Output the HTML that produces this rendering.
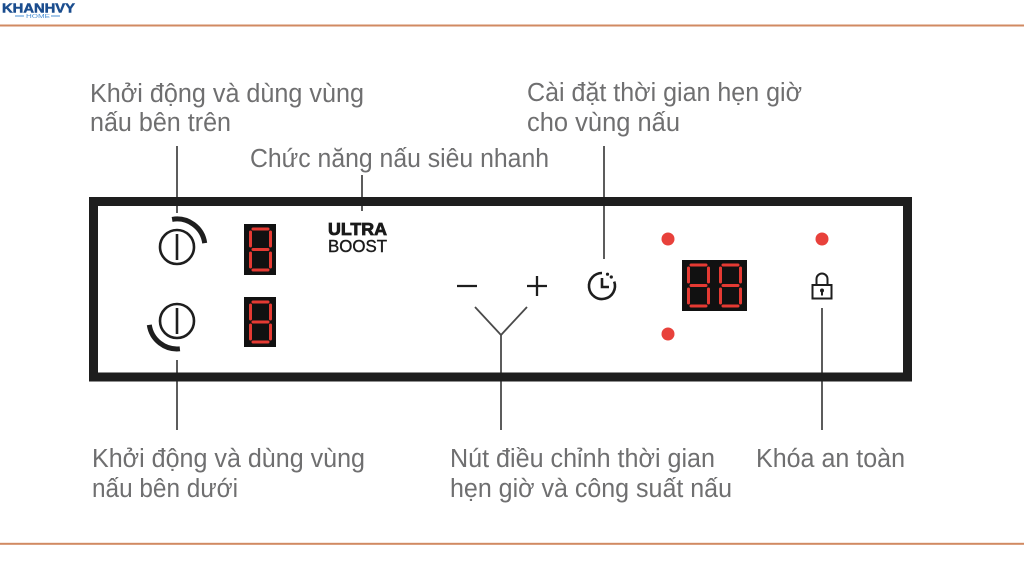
<!DOCTYPE html>
<html><head><meta charset="utf-8"><style>
html,body{margin:0;padding:0;background:#fff;}
svg{display:block;}
.lbl{font-family:"Liberation Sans",Arial,sans-serif;font-size:25.5px;fill:#6f6f70;}
</style></head><body>
<svg width="1024" height="576" viewBox="0 0 1024 576" xmlns="http://www.w3.org/2000/svg">
<rect width="1024" height="576" fill="#fff"/>
<!-- logo -->
<text x="2" y="12.5" font-family="Liberation Sans,Arial,sans-serif" font-weight="bold" font-size="13" fill="#1b4d8e" stroke="#1b4d8e" stroke-width="0.5" textLength="73" lengthAdjust="spacingAndGlyphs">KHANHVY</text>
<line x1="15" y1="16" x2="24" y2="16" stroke="#4a8fd3" stroke-width="1"/>
<line x1="51" y1="16" x2="60" y2="16" stroke="#4a8fd3" stroke-width="1"/>
<text x="26" y="18" font-family="Liberation Sans,Arial,sans-serif" font-size="5" fill="#4a8fd3" textLength="24" lengthAdjust="spacingAndGlyphs">HOME</text>
<!-- orange rules -->
<rect x="0" y="24.5" width="1024" height="2" fill="#d18a62"/>
<rect x="0" y="542.8" width="1024" height="2" fill="#d18a62"/>

<!-- labels -->
<text class="lbl" x="90" y="102" textLength="274" lengthAdjust="spacingAndGlyphs">Khởi động và dùng vùng</text>
<text class="lbl" x="90" y="131" textLength="141" lengthAdjust="spacingAndGlyphs">nấu bên trên</text>
<text class="lbl" x="250" y="167" textLength="299" lengthAdjust="spacingAndGlyphs">Chức năng nấu siêu nhanh</text>
<text class="lbl" x="527" y="101" textLength="275" lengthAdjust="spacingAndGlyphs">Cài đặt thời gian hẹn giờ</text>
<text class="lbl" x="527" y="131" textLength="153" lengthAdjust="spacingAndGlyphs">cho vùng nấu</text>
<text class="lbl" x="92" y="467" textLength="273" lengthAdjust="spacingAndGlyphs">Khởi động và dùng vùng</text>
<text class="lbl" x="92" y="497" textLength="146" lengthAdjust="spacingAndGlyphs">nấu bên dưới</text>
<text class="lbl" x="450" y="467" textLength="265" lengthAdjust="spacingAndGlyphs">Nút điều chỉnh thời gian</text>
<text class="lbl" x="450" y="497" textLength="282" lengthAdjust="spacingAndGlyphs">hẹn giờ và công suất nấu</text>
<text class="lbl" x="756" y="467" textLength="149" lengthAdjust="spacingAndGlyphs">Khóa an toàn</text>

<!-- connectors -->
<g stroke="#4a4a4a" stroke-width="1.8" fill="none">
<line x1="177" y1="146" x2="177" y2="213"/>
<line x1="362" y1="175" x2="362" y2="211"/>
<line x1="604" y1="146" x2="604" y2="259"/>
<line x1="177" y1="360" x2="177" y2="430"/>
<line x1="501" y1="335" x2="501" y2="430"/>
<line x1="475" y1="307" x2="501" y2="335"/>
<line x1="527" y1="307" x2="501" y2="335"/>
<line x1="822" y1="308" x2="822" y2="430"/>
</g>

<!-- frame -->
<rect x="93.5" y="201.5" width="814" height="175.5" fill="none" stroke="#1e1e1e" stroke-width="9"/>

<!-- power icons -->
<g stroke="#1e1e1e" fill="none">
<circle cx="177" cy="247" r="17" stroke-width="2.6"/>
<line x1="177" y1="234" x2="177" y2="260" stroke-width="2.6"/>
<path d="M172.1,219.4 A28,28 0 0 1 204.7,243.1" stroke-width="5"/>
<circle cx="177" cy="321" r="17" stroke-width="2.6"/>
<line x1="177" y1="308" x2="177" y2="334" stroke-width="2.6"/>
<path d="M179.9,348.8 A28,28 0 0 1 149.3,324.9" stroke-width="5"/>
</g>

<!-- single digit displays -->
<rect x="244" y="224" width="32" height="51" fill="#111"/>
<rect x="244" y="297" width="32" height="50" fill="#111"/>
<g stroke="#e53a33" stroke-width="3" stroke-linecap="round" fill="none">
<path d="M253,229 H268 M250.5,232 V246 M270.5,232 V246 M253,249.5 H268 M250.5,253 V267 M270.5,253 V267 M253,270 H268"/>
<path d="M253,302 H268 M250.5,305 V319 M270.5,305 V319 M253,322 H268 M250.5,325 V339 M270.5,325 V339 M253,342 H268"/>
</g>

<!-- ULTRA BOOST -->
<text x="328" y="235" font-family="Liberation Sans,Arial,sans-serif" font-weight="bold" font-size="17.5" fill="#1a1a1a" stroke="#1a1a1a" stroke-width="0.8" textLength="59" lengthAdjust="spacingAndGlyphs">ULTRA</text>
<text x="328" y="252" font-family="Liberation Sans,Arial,sans-serif" font-size="17.5" fill="#1a1a1a" stroke="#1a1a1a" stroke-width="0.4" textLength="59" lengthAdjust="spacingAndGlyphs">BOOST</text>

<!-- minus plus -->
<g stroke="#1e1e1e" stroke-width="2.3">
<line x1="457" y1="286" x2="477" y2="286"/>
<line x1="527" y1="286" x2="547" y2="286"/>
<line x1="537" y1="276" x2="537" y2="296"/>
</g>

<!-- timer icon -->
<g stroke="#1e1e1e" stroke-width="2.6" fill="none">
<path d="M602,273 A13,13 0 1 0 614.2,281.6"/>
<path d="M602,278 V287 H609"/>
</g>
<circle cx="607.5" cy="274.2" r="1.6" fill="#1e1e1e"/>
<circle cx="611.3" cy="277" r="1.6" fill="#1e1e1e"/>

<!-- red dots -->
<g fill="#e8413b">
<circle cx="668" cy="239" r="6.5"/>
<circle cx="668" cy="334" r="6.5"/>
<circle cx="822" cy="239" r="6.5"/>
</g>

<!-- 88 display -->
<rect x="682" y="260" width="65" height="51" fill="#111"/>
<g stroke="#e53a33" stroke-width="3" stroke-linecap="round" fill="none">
<path d="M691,265 H706 M688.5,268 V282 M708.5,268 V282 M691,285.5 H706 M688.5,289 V303 M708.5,289 V303 M691,306 H706"/>
<path d="M723,265 H738 M720.5,268 V282 M740.5,268 V282 M723,285.5 H738 M720.5,289 V303 M740.5,289 V303 M723,306 H738"/>
</g>

<!-- lock -->
<g stroke="#1e1e1e" stroke-width="2" fill="none">
<path d="M816.5,285 V279 A5.5,5.5 0 0 1 827.5,279 V285"/>
<rect x="812.5" y="285" width="19" height="13.5"/>
</g>
<circle cx="822" cy="290.5" r="2" fill="#1e1e1e"/>
<rect x="821" y="291" width="2" height="4.5" fill="#1e1e1e"/>
</svg>
</body></html>
